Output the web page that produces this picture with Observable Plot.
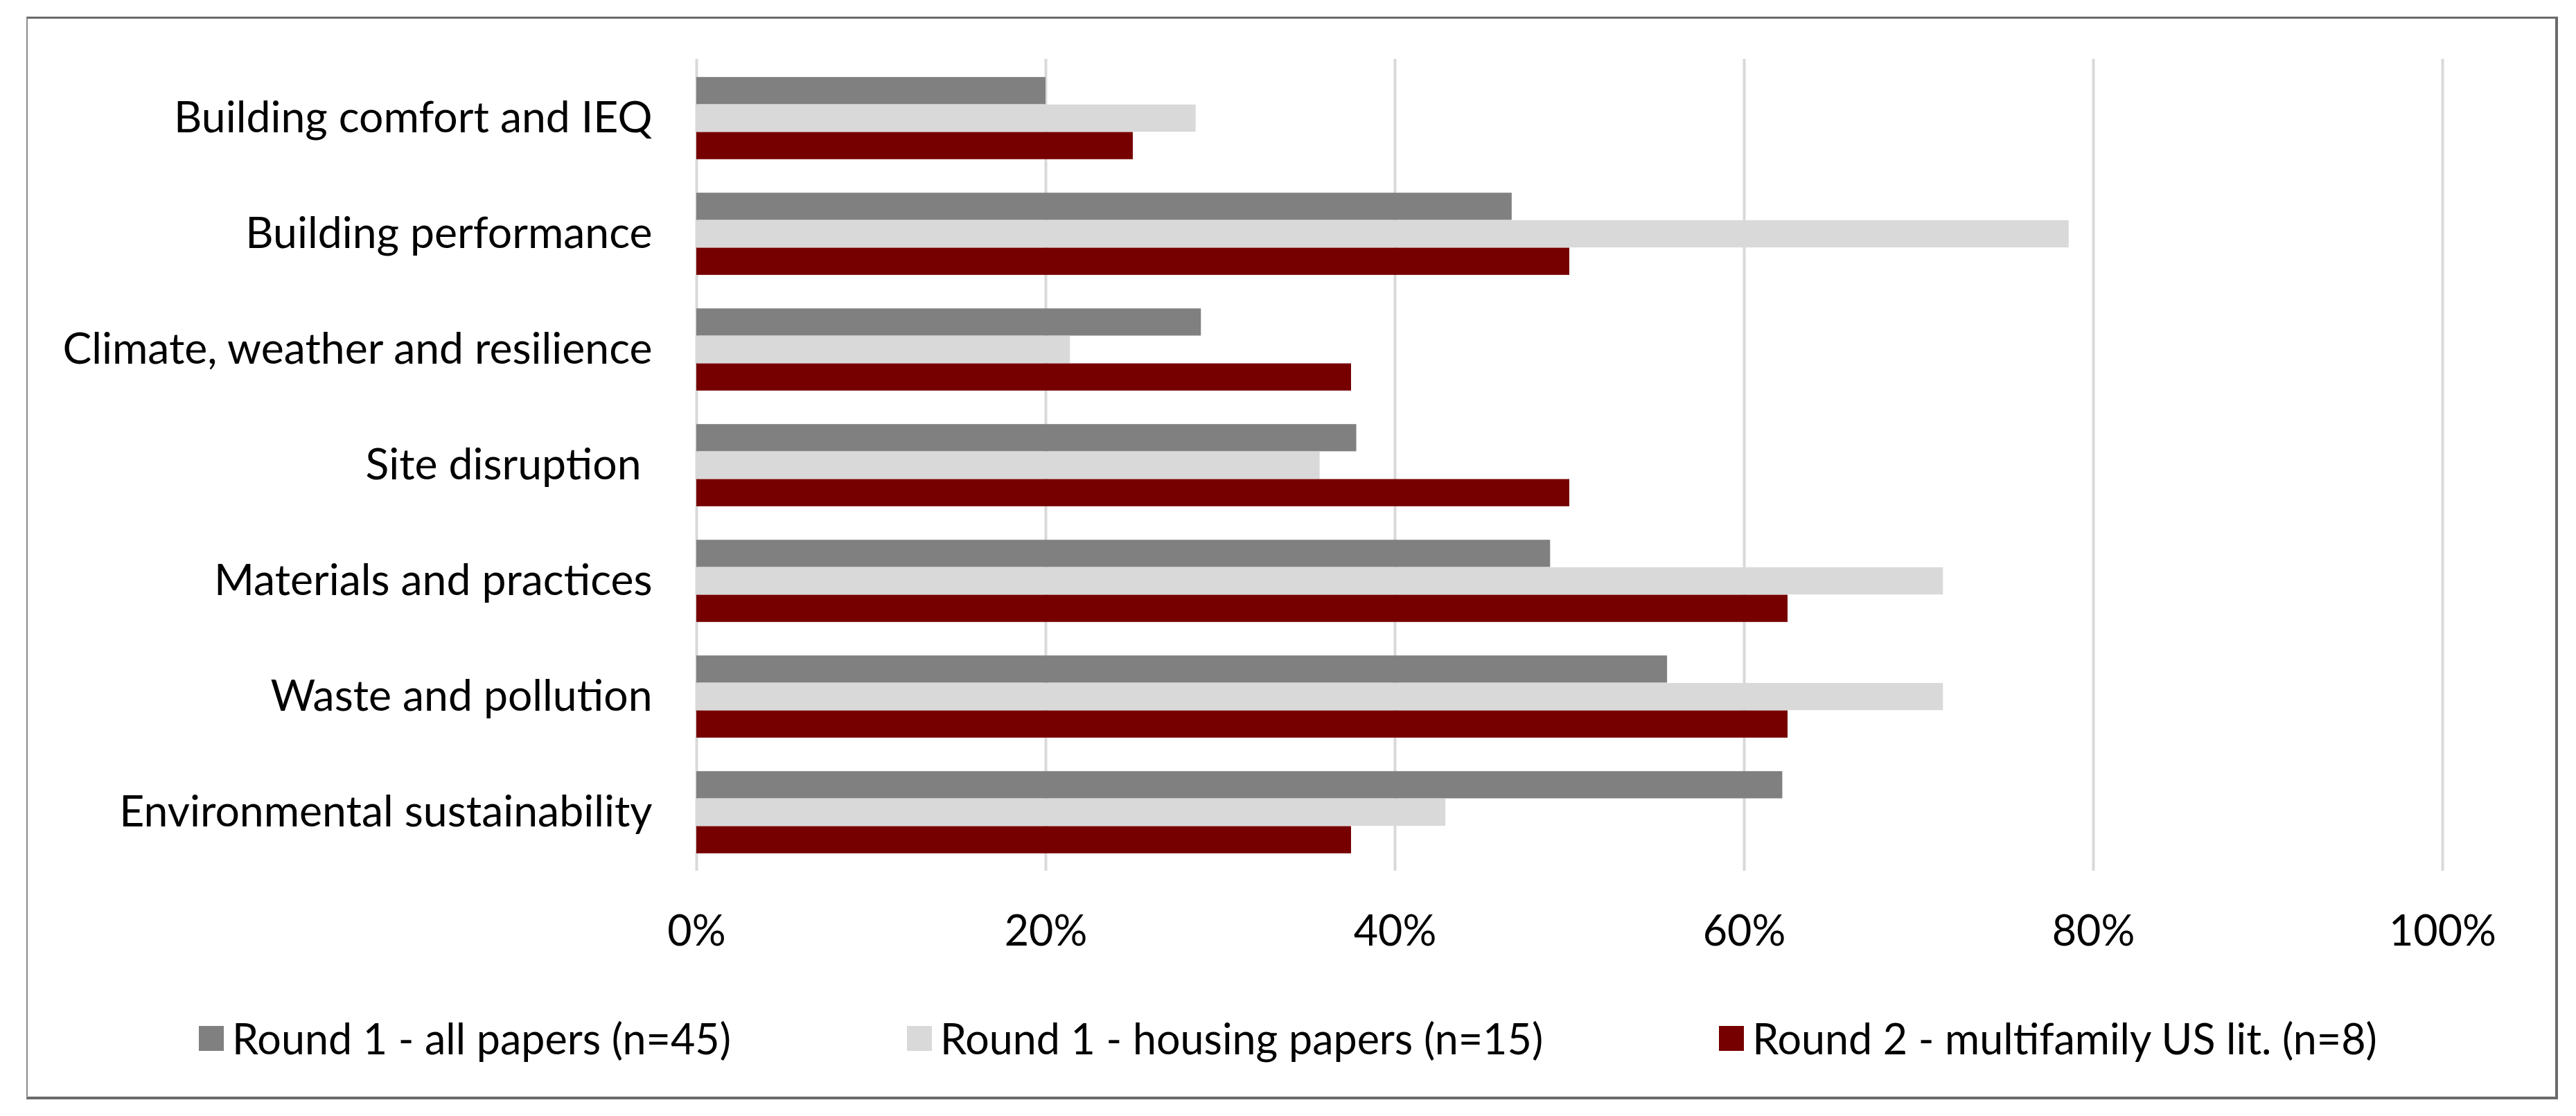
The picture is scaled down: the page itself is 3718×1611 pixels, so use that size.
<!DOCTYPE html>
<html>
<head>
<meta charset="utf-8">
<script src="https://cdn.jsdelivr.net/npm/d3@7"></script>
<script src="https://cdn.jsdelivr.net/npm/@observablehq/plot@0.6"></script>
<style>
  html, body { margin: 0; padding: 0; background: #fff; }
  body { width: 3718px; height: 1611px; position: relative; overflow: hidden; font-family: Lato, sans-serif; }
  #frame { position: absolute; left: 38px; top: 24px; width: 3654px; height: 1563px; box-sizing: border-box;
           border: 4px solid #6a6a6a; border-top-width: 3px; border-left: 2px solid #8c8c8c; }
  #chart { position: absolute; left: 0; top: 0; }
  #chart svg text { white-space: pre; }
  #legend { position: absolute; left: 0; top: 1462px; width: 3718px; display: flex; justify-content: center;
            align-items: center; gap: 254px; font-size: 61px; color: #000; }
  .item { display: flex; align-items: center; }
  .swatch { width: 36px; height: 36px; margin-right: 12px; display: inline-block; }
</style>
</head>
<body>
<div id="frame"></div>
<div id="chart"></div>
<div id="legend"></div>
<script>
// ---- data ----
const categories = [
  "Building comfort and IEQ",
  "Building performance",
  "Climate, weather and resilience",
  "Site disruption ",
  "Materials and practices",
  "Waste and pollution",
  "Environmental sustainability"
];
const seriesNames = [
  "Round 1 - all papers (n=45)",
  "Round 1 - housing papers (n=15)",
  "Round 2 - multifamily US lit. (n=8)"
];
const round1All     = [20.0, 46.7, 28.9, 37.8, 48.9, 55.6, 62.2];
const round1Housing = [28.6, 78.6, 21.4, 35.7, 71.4, 71.4, 42.9];
const round2        = [25.0, 50.0, 37.5, 50.0, 62.5, 62.5, 37.5];
const xTicks = [0, 20, 40, 60, 80, 100];
const seriesColors = ["#808080", "#d9d9d9", "#760000"];

// ---- layout ----
const W = 3718, H = 1400;
const mTop = 85, mBottom = 143, mLeft = 1005, mRight = 193;
const step = (H - mTop - mBottom) / categories.length;
const barH = step * 0.237;
const off = (step - 3 * barH) / 2;

const seriesValues = [round1All, round1Housing, round2];
const barMarks = seriesValues.map((vals, i) =>
  Plot.barX(categories.map((c, j) => ({category: c, value: vals[j]})), {
    x: "value",
    y: "category",
    fill: seriesColors[i],
    insetTop: off + i * barH,
    insetBottom: step - off - (i + 1) * barH
  })
);

const chart = Plot.plot({
  width: W,
  height: H,
  marginTop: mTop,
  marginBottom: mBottom,
  marginLeft: mLeft,
  marginRight: mRight,
  style: {fontFamily: "Lato, sans-serif", fontSize: "61px", color: "#000", background: "transparent", overflow: "visible"},
  x: {domain: [0, 100]},
  y: {domain: categories, padding: 0},
  marks: [
    Plot.ruleX(xTicks, {stroke: "#d9d9d9", strokeWidth: 4}),
    ...barMarks,
    Plot.axisX({ticks: xTicks, tickSize: 0, tickPadding: 64, tickFormat: d => d + "%", label: null}),
    Plot.axisY({tickSize: 0, tickPadding: 64, label: null, fontSize: 62.5})
  ]
});
document.getElementById("chart").appendChild(chart);

// ---- legend ----
const legend = document.getElementById("legend");
seriesNames.forEach((name, i) => {
  const item = document.createElement("div");
  item.className = "item";
  const sw = document.createElement("span");
  sw.className = "swatch";
  sw.style.background = seriesColors[i];
  const label = document.createElement("span");
  label.textContent = name;
  item.appendChild(sw);
  item.appendChild(label);
  legend.appendChild(item);
});
</script>
</body>
</html>
